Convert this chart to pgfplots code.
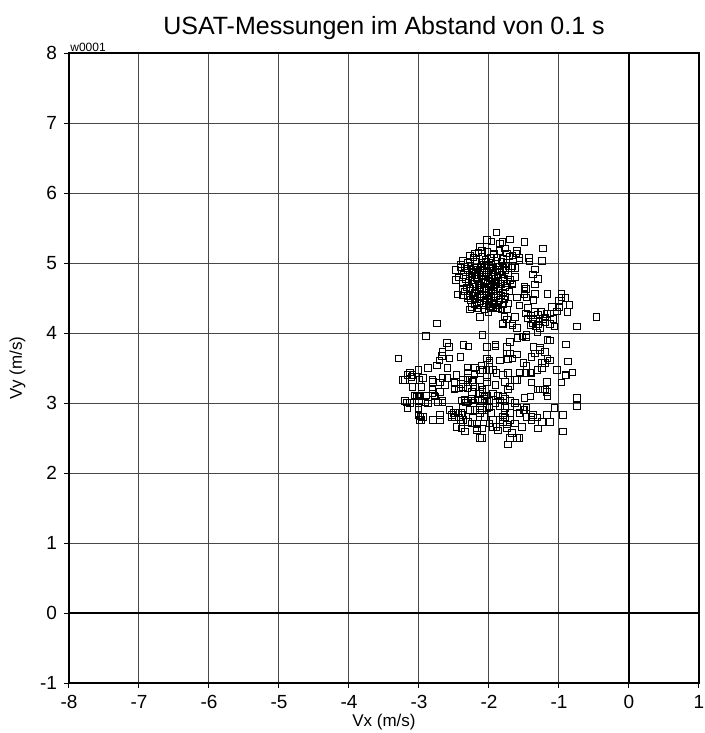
\documentclass[border=0pt]{standalone}
\usepackage{pgfplots}
\pgfplotsset{compat=1.18}
\usepackage{fontspec}
\setmainfont{Liberation Sans}

% USAT velocity samples (Vx, Vy) in m/s, taken every 0.1 s
\pgfplotstableread{
vx vy
-1.89 5.44
-2.03 5.33
-1.96 5.31
-1.81 5.30
-2.13 5.23
-2.10 5.18
-2.20 5.14
-2.27 5.11
-2.37 5.04
-2.40 4.98
-1.70 5.34
-1.49 5.30
-1.23 5.21
-1.84 5.28
-1.77 5.21
-1.60 5.17
-1.66 5.11
-1.56 5.07
-1.43 5.07
-1.42 5.02
-1.24 5.03
-1.34 4.91
-1.37 4.84
-1.30 4.77
-1.63 4.93
-1.68 4.93
-1.63 4.80
-1.66 4.69
-1.49 4.66
-1.49 4.60
-1.49 4.55
-1.34 4.56
-1.16 4.56
-0.96 4.56
-0.96 4.51
-0.91 4.50
-1.60 4.51
-1.00 4.46
-0.99 4.37
-1.03 4.31
-1.10 4.37
-1.17 4.27
-1.23 4.20
-1.30 4.26
-1.37 4.19
-1.44 4.21
-1.41 4.11
-1.06 4.09
-1.27 4.07
-1.44 4.36
-1.36 4.47
-1.56 4.39
-1.63 4.23
-1.66 4.14
-1.60 4.07
-1.47 3.94
-1.52 3.95
-1.74 4.19
-1.78 4.24
-1.81 4.14
-1.87 4.36
-1.74 4.34
-1.46 4.51
-1.34 4.69
-1.47 4.63
-1.66 4.71
-1.66 4.96
-1.56 5.04
-1.61 5.14
-2.41 4.94
-2.39 4.89
-2.43 4.79
-2.37 4.63
-2.37 4.54
-2.30 4.50
-2.24 4.37
-2.27 4.34
-2.17 4.39
-2.13 4.23
-2.01 4.29
-1.94 4.37
-0.46 4.23
-0.74 4.09
-0.85 4.40
-0.88 4.30
-1.20 4.15
-1.13 4.13
-1.33 4.10
-1.25 4.30
-1.40 4.25
-1.35 4.30
-1.28 4.17
-1.19 4.22
-1.12 4.28
-1.08 4.20
-1.38 4.14
-1.30 4.12
-1.47 4.28
-2.15 5.15
-2.02 5.16
-1.93 5.13
-1.85 5.17
-1.74 5.14
-2.22 5.08
-2.09 5.09
-1.98 5.07
-1.88 5.08
-1.80 5.06
-1.71 5.09
-2.30 5.01
-2.18 5.02
-2.11 5.00
-2.04 5.02
-1.96 5.01
-1.90 4.99
-1.82 5.02
-1.75 5.00
-2.34 4.95
-2.26 4.96
-2.19 4.94
-2.12 4.95
-2.06 4.93
-2.00 4.96
-1.94 4.94
-1.86 4.95
-1.79 4.93
-1.72 4.96
-2.31 4.89
-2.24 4.88
-2.16 4.90
-2.09 4.89
-2.03 4.87
-1.97 4.89
-1.91 4.90
-1.84 4.88
-1.76 4.89
-2.36 4.83
-2.28 4.84
-2.21 4.82
-2.14 4.83
-2.07 4.81
-2.01 4.84
-1.95 4.83
-1.88 4.82
-1.81 4.84
-1.73 4.83
-2.33 4.77
-2.25 4.76
-2.18 4.78
-2.11 4.77
-2.05 4.76
-1.99 4.78
-1.92 4.77
-1.86 4.75
-1.78 4.77
-1.70 4.76
-2.38 4.71
-2.29 4.72
-2.22 4.70
-2.15 4.71
-2.08 4.72
-2.02 4.70
-1.96 4.71
-1.89 4.72
-1.82 4.70
-1.74 4.71
-2.32 4.65
-2.26 4.64
-2.19 4.66
-2.12 4.65
-2.05 4.64
-1.98 4.66
-1.92 4.65
-1.85 4.64
-1.77 4.65
-2.35 4.59
-2.28 4.60
-2.21 4.58
-2.14 4.59
-2.07 4.60
-2.00 4.58
-1.94 4.59
-1.87 4.60
-1.80 4.58
-1.71 4.59
-2.31 4.53
-2.23 4.54
-2.16 4.52
-2.10 4.53
-2.03 4.54
-1.96 4.52
-1.90 4.53
-1.83 4.54
-1.76 4.52
-2.26 4.47
-2.19 4.48
-2.12 4.46
-2.05 4.47
-1.99 4.48
-1.92 4.46
-1.85 4.47
-1.78 4.48
-2.21 4.41
-2.14 4.42
-2.08 4.40
-2.01 4.41
-1.93 4.42
-1.86 4.40
-1.79 4.41
-1.72 4.42
-2.16 4.35
-2.06 4.34
-1.98 4.36
-1.90 4.35
-1.82 4.34
-2.10 4.86
-2.04 4.74
-1.98 4.92
-2.13 4.68
-1.95 4.80
-2.07 4.98
-2.01 4.62
-2.18 4.80
-1.90 4.70
-2.10 4.55
-1.97 4.50
-2.23 4.90
-1.85 4.95
-2.05 5.05
-1.93 5.12
-2.48 4.90
-2.47 4.76
-2.45 4.55
-2.09 3.97
-1.91 3.84
-1.80 4.13
-1.70 3.87
-1.59 3.93
-1.46 3.94
-1.13 3.89
-0.90 3.84
-0.87 3.59
-0.81 3.44
-0.91 3.39
-1.03 3.47
-2.03 3.80
-2.03 3.64
-1.99 3.57
-1.84 3.61
-1.74 3.71
-1.66 3.64
-1.60 3.69
-1.51 3.57
-1.46 3.53
-1.39 3.66
-1.34 3.71
-1.27 3.76
-1.20 3.73
-1.20 3.57
-1.13 3.61
-1.24 3.50
-1.31 3.47
-1.41 3.44
-1.56 3.44
-1.73 3.43
-1.80 3.40
-1.89 3.43
-1.94 3.47
-2.09 3.47
-2.11 3.54
-2.03 3.30
-1.91 3.26
-1.60 3.33
-1.39 3.29
-1.17 3.30
-0.96 3.29
-0.90 3.40
-2.09 3.16
-2.03 3.04
-1.94 3.14
-1.87 3.11
-1.80 3.09
-1.73 3.19
-1.70 3.24
-1.63 3.00
-1.49 3.07
-1.41 3.09
-1.27 3.19
-1.20 3.19
-1.16 3.09
-1.60 2.94
-1.51 2.90
-1.46 2.94
-1.37 2.83
-1.31 2.79
-1.24 2.73
-1.17 2.83
-1.13 2.73
-1.30 2.64
-0.94 2.83
-0.94 2.59
-0.74 3.07
-0.74 2.96
-2.06 2.80
-2.10 2.90
-2.10 2.64
-2.10 2.50
-1.94 2.66
-1.87 2.61
-1.80 2.80
-1.80 2.73
-1.74 2.69
-1.70 2.76
-1.67 2.57
-1.73 2.41
-1.60 2.50
-1.56 2.50
-1.78 2.86
-1.99 2.94
-3.20 3.03
-3.16 2.93
-3.13 3.00
-3.06 3.11
-3.03 3.09
-2.99 3.11
-3.00 3.04
-3.01 2.91
-2.94 2.80
-2.99 2.76
-2.96 3.23
-2.89 3.11
-2.81 3.14
-2.78 3.11
-2.73 3.01
-2.66 3.01
-2.80 2.76
-2.70 2.83
-2.53 2.83
-2.49 2.79
-2.41 2.76
-2.46 2.66
-2.39 2.64
-2.34 2.59
-2.30 2.73
-2.24 2.71
-2.23 2.79
-2.17 2.64
-2.13 2.50
-2.37 2.93
-2.27 2.90
-2.20 2.90
-2.13 2.93
-2.49 3.21
-2.43 3.21
-2.31 3.21
-2.39 3.04
-2.35 3.05
-2.30 3.03
-2.25 3.06
-2.20 3.04
-2.15 3.05
-2.10 3.03
-2.06 3.06
-2.33 3.01
-2.22 3.00
-3.01 2.83
-2.98 2.81
-2.56 2.90
-2.44 2.86
-2.38 2.83
-2.13 3.14
-2.06 3.09
-2.74 4.14
-2.90 3.96
-3.29 3.64
-2.60 3.86
-2.57 3.80
-2.66 3.73
-2.67 3.67
-2.71 3.61
-2.74 3.54
-2.56 3.64
-2.36 3.83
-2.29 3.81
-2.41 3.66
-2.31 3.51
-2.20 3.51
-2.13 3.47
-2.59 3.50
-2.46 3.40
-2.30 3.43
-2.30 3.36
-2.21 3.41
-2.87 3.50
-3.01 3.47
-3.09 3.40
-3.11 3.37
-3.23 3.33
-2.99 3.33
-2.94 3.36
-2.81 3.33
-2.66 3.36
-2.70 3.29
-2.49 3.30
-2.37 3.33
-2.40 3.27
-2.23 3.30
-2.13 3.33
-2.03 3.37
-1.66 4.11
-1.46 3.97
-1.31 4.01
-1.16 3.90
-1.36 3.80
-1.27 3.79
-1.16 3.64
-1.24 3.57
-1.73 3.63
-1.70 3.71
-1.74 3.80
-1.91 3.81
-1.99 3.61
-1.99 3.47
-1.77 3.30
-1.63 3.33
-1.56 3.43
-1.46 3.43
-1.39 3.43
-1.30 3.19
-1.23 3.19
-1.17 3.16
-1.06 2.93
-1.39 2.76
-1.46 2.80
-1.53 2.66
-1.63 2.71
-1.77 2.79
-1.84 2.76
-1.74 2.64
-1.70 2.50
-2.17 2.61
-2.17 2.71
-2.37 2.76
-2.51 2.86
-2.53 2.80
-2.43 2.79
-2.39 2.86
-2.13 2.86
-2.13 2.96
-2.03 2.93
-1.97 2.86
-1.94 2.76
-1.89 2.66
-1.99 2.71
-3.20 3.33
-3.16 3.40
-3.13 3.44
-3.09 3.23
-3.01 3.09
-3.17 3.01
-3.01 2.93
-2.96 2.76
-2.91 3.01
-2.87 2.99
-2.80 3.30
-2.81 3.19
-2.77 3.09
-2.66 3.04
-2.70 3.16
-2.63 3.26
-2.59 3.36
-2.49 3.29
-2.49 3.19
-2.37 3.23
-2.31 3.33
-2.24 3.33
-2.20 3.23
-2.24 3.16
-2.13 3.23
-2.09 3.19
-2.03 3.11
-1.99 3.04
-1.91 3.00
-1.84 3.04
-1.77 3.06
-1.70 3.04
-1.84 2.96
-1.77 2.93
-1.70 2.86
-1.56 2.86
-1.49 2.90
-1.39 2.80
-2.70 2.76
}\usatdata

\begin{document}
\begin{tikzpicture}[x=1pt,y=1pt]
\useasboundingbox (-34.5,-25) rectangle (318,341.5);
\begin{axis}[
  at={(0,0)}, anchor=south west,
  scale only axis,
  width=315pt, height=315pt,
  xmin=-8, xmax=1, ymin=-1, ymax=8,
  xtick={-8,...,1}, ytick={-1,...,8},
  tick align=outside,
  major tick length=2.5pt,
  tick style={black, line width=0.5pt},
  xtick pos=bottom, ytick pos=left,
  grid=major,
  major grid style={black!72, line width=0.5pt},
  axis line style={black, line width=0.6pt},
  /pgf/number format/assume math mode=true,
  ticklabel style={font=\fontsize{9.5}{11}\selectfont},
  title={USAT-Messungen im Abstand von 0.1 s},
  title style={font=\fontsize{12.5}{14}\selectfont, yshift=-3pt},
  xlabel={Vx (m/s)},
  ylabel={Vy (m/s)},
  label style={font=\fontsize{8.5}{10}\selectfont},
  xlabel style={yshift=4pt},
  ylabel style={yshift=0.5pt},
  clip=false,
]
  % zero lines drawn darker than the rest of the grid
  \draw[black, line width=0.6pt] (axis cs:0,-1) -- (axis cs:0,8);
  \draw[black, line width=0.6pt] (axis cs:-8,0) -- (axis cs:1,0);
  \addplot[only marks, mark=square, mark size=1.6pt,
           mark options={black, line width=0.5pt}]
    table[x=vx, y=vy] {\usatdata};
  \node[anchor=south west, inner sep=0.5pt, font=\fontsize{6}{7}\selectfont]
    at (rel axis cs:0,1) {w0001};
\end{axis}
\end{tikzpicture}
\end{document}
